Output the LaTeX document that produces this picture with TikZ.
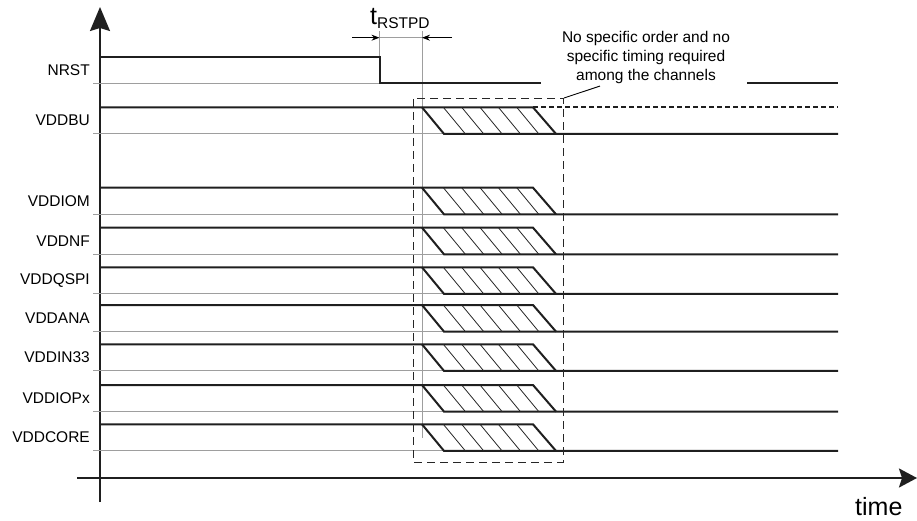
\documentclass[tikz,border=0pt]{standalone}
\usepackage{fontspec}
\setmainfont{Liberation Sans}
\usepackage{xcolor}
\usetikzlibrary{arrows.meta, positioning, calc}

\begin{document}
\begin{tikzpicture}[
        x=1pt, y=-1pt,
        >=stealth,
        % trazos de las señales y de las referencias
        signal/.style={line width=2pt, black!88},
        base/.style={line width=0.9pt, black!38},
        hatch/.style={line width=0.8pt, black!85},
        guide/.style={line width=0.8pt, black!38},
        frame/.style={line width=1pt, black!85, dash pattern=on 8pt off 5pt},
        axis/.style={line width=2pt, black!88, -{Stealth[length=24pt, width=20pt, inset=3pt]}},
        dim/.style={line width=0.9pt, -{Stealth[length=8pt, width=6pt]}},
        lbl/.style={anchor=east, inner sep=0pt, font=\fontsize{15.5}{18}\selectfont}
    ]
        \useasboundingbox (0,0) rectangle (917,521);

        % Ejes
        \coordinate (ybot) at (100,502);
        \coordinate (ytop) at (100,7);
        \coordinate (xleft) at (77,478);
        \coordinate (xright) at (917,478);
        \draw[axis] (ybot) -- (ytop);
        \draw[axis, -{Stealth[length=18pt, width=19pt, inset=3pt]}] (xleft) -- (xright);
        \node[anchor=base west, inner sep=0pt, font=\fontsize{25}{25}\selectfont] (time) at (855,515) {time};

        % Referencias verticales de t_RSTPD
        \coordinate (fall) at (379.5,31);
        \coordinate (cut) at (422,31);
        \draw[guide] (fall) -- (379.5,57);
        \draw[guide] (cut) -- (422,438);
        \draw[guide] (379.5,37.7) -- (422,37.7);
        \draw[dim] (352,37.7) -- (379.5,37.7);
        \draw[dim] (452,37.7) -- (422,37.7);
        \node[anchor=base west, inner sep=0pt] (trstpd) at (370,25)
            {\fontsize{25}{25}\selectfont t\fontsize{15.5}{18}\selectfont\raisebox{-3.3pt}{RSTPD}};

        % NRST
        \draw[base] (93,83) -- (380,83);
        \draw[signal] (100,57) -- (379.5,57) -- (379.5,83) -- (541,83);
        \draw[signal] (747,83) -- (838,83);
        \node[lbl] (nrst) at (90,70) {NRST};

        % Canales de alimentación
        \foreach \name/\hi in {VDDBU/107.3, VDDIOM/187.7, VDDNF/227.7, VDDQSPI/267.3,
                              VDDANA/305, VDDIN33/344.3, VDDIOPx/385, VDDCORE/424.3} {
            \pgfmathsetmacro{\lo}{\hi+26.6}
            \draw[base] (93,\lo) -- (444,\lo);
            \draw[signal] (100,\hi) -- (533,\hi) -- (556,\lo);
            \draw[signal] (422,\hi) -- (444,\lo) -- (838,\lo);
            \foreach \k in {1,...,5}
                \draw[hatch] ({425+\k*18.35},\hi) -- ({447+\k*18.35},\lo);
            \node[lbl] (\name) at (90,{\hi+13.3}) {\name};
        }
        % VDDBU sigue alimentado (línea discontinua)
        \draw[signal, line width=1.6pt, dash pattern=on 5pt off 3pt] (533,107.3) -- (838,107.3);

        % Zona sin orden
        \coordinate (boxNW) at (413,99);
        \coordinate (boxSE) at (563,462);
        \draw[frame] (boxNW) rectangle (boxSE);
        \node[align=center, anchor=north, inner sep=0pt, font=\fontsize{15.5}{18.7}\selectfont] (note) at (646,31.3)
            {No specific order and no\\specific timing required\\among the channels};
        \coordinate (lead) at (564,98);
        \draw[line width=0.9pt] (lead) -- ([xshift=-46pt, yshift=-2.5pt]note.south);

    \end{tikzpicture}
\end{document}
